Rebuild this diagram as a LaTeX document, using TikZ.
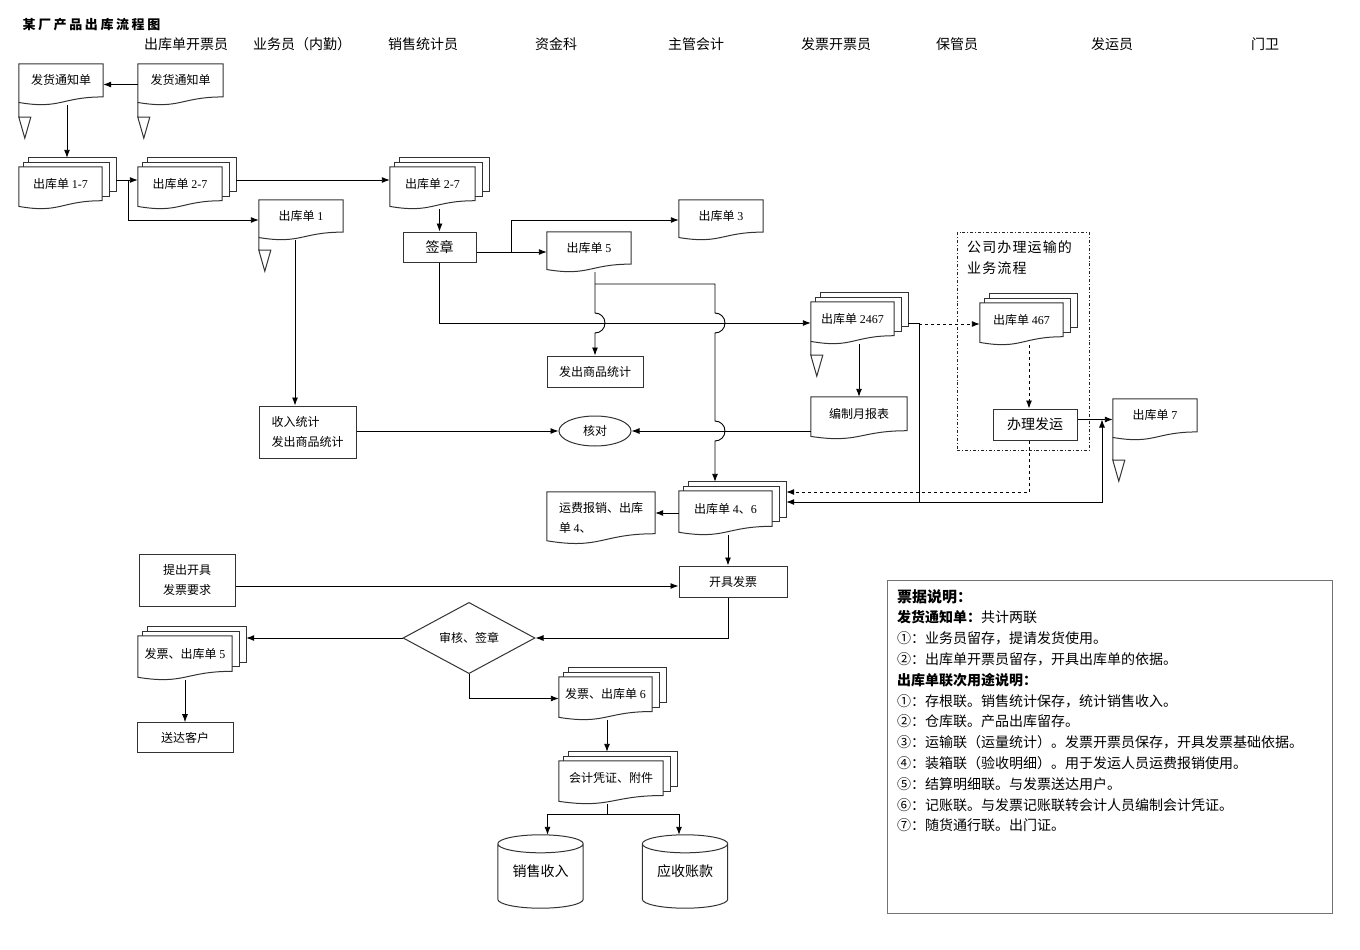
\documentclass[tikz,border=0pt]{standalone}
\usepackage{fontspec}
\setmainfont{Noto Sans CJK SC}
\newfontfamily\numfont{Liberation Serif}
\usetikzlibrary{shapes.geometric, arrows.meta, positioning, calc}
\tikzstyle{process} = [rectangle, draw=black!80, line width=1pt, inner sep=0pt, text centered]
\tikzstyle{decision} = [diamond, draw=black!80, line width=1pt, inner sep=0pt, minimum width=132pt, minimum height=62pt]
\tikzstyle{check} = [ellipse, draw=black!80, line width=1pt, inner sep=0pt, minimum width=72pt, minimum height=30pt]
\tikzstyle{flow} = [line width=0.9pt, ->, >={Latex[length=8pt,width=6pt]}]
\tikzstyle{lane} = [font=\fontsize{14pt}{16pt}\selectfont]
\tikzstyle{big} = [font=\fontsize{14pt}{16pt}\selectfont]
\tikzset{
  pageline/.style={draw=black!80, line width=1pt},
  % page with a wavy lower edge
  wavepage/.style 2 args={rectangle, minimum width=#1pt, minimum height=#2pt, inner sep=0pt,
    append after command={\pgfextra{\let\mainnode=\tikzlastnode
      \draw[pageline] let \p1=(\mainnode.north west), \p2=(\mainnode.south east) in
        (\p1) -- (\x2,\y1) -- ({\x2},{\y1-0.8*(\y1-\y2)})
        .. controls ({(\x1+\x2)/2},{\y1-0.8*(\y1-\y2)}) and ({(\x1+\x2)/2},{\y1-1.107*(\y1-\y2)})
        .. ({\x1},{\y1-0.934*(\y1-\y2)}) -- cycle;}}},
  docpage/.style 2 args={wavepage={#1}{#2}, text height=8pt, text depth=8pt},
  % two more pages behind the front one
  docstack/.style 2 args={docpage={#1}{#2},
    append after command={\pgfextra{\let\mainnode=\tikzlastnode
      \draw[pageline] let \p1=(\mainnode.north west), \p2=(\mainnode.south east) in
        ({\x1+5pt},{\y1}) -- ({\x1+5pt},{\y1+4.5pt}) -- ({\x2+7pt},{\y1+4.5pt})
          -- ({\x2+7pt},{\y1-0.8*(\y1-\y2)+4.5pt}) -- ({\x2},{\y1-0.8*(\y1-\y2)+4.5pt})
        ({\x1+10pt},{\y1+4.5pt}) -- ({\x1+10pt},{\y1+9pt}) -- ({\x2+14pt},{\y1+9pt})
          -- ({\x2+14pt},{\y1-0.8*(\y1-\y2)+9pt}) -- ({\x2+7pt},{\y1-0.8*(\y1-\y2)+9pt});}}},
  % file mark under the left edge
  filemark/.style={append after command={\pgfextra{\let\mainnode=\tikzlastnode
      \draw[pageline] let \p1=(\mainnode.north west), \p2=(\mainnode.south east) in
        ({\x1},{\y1-0.934*(\y1-\y2)}) -- ({\x1},{\y2-#1pt})
        ({\x1},{\y2-#1pt}) -- ({\x1+12pt},{\y2-#1pt})
          -- ({\x1+6pt},{\y2-#1pt-21pt}) -- cycle;}}},
  filemark/.default=11,
  drum/.style={minimum width=85pt, minimum height=73pt, inner sep=0pt,
    append after command={\pgfextra{\let\mainnode=\tikzlastnode
      \draw[pageline] let \p1=(\mainnode.north west), \p2=(\mainnode.south east) in
        ({(\x1+\x2)/2},{\y1-9pt}) ellipse [x radius={(\x2-\x1)/2}, y radius=9pt]
        ({\x1},{\y1-9pt}) -- ({\x1},{\y2+9pt})
          arc [start angle=180, end angle=360, x radius={(\x2-\x1)/2}, y radius=9pt]
          -- ({\x2},{\y1-9pt});}}}
}

\begin{document}
\begin{tikzpicture}[x=1pt, y=-1pt, font=\fontsize{12pt}{20pt}\selectfont]
  \path[use as bounding box, fill=white] (0,0) rectangle (1360,950);
  \node (title) [anchor=west, font=\fontsize{13pt}{14pt}\selectfont\bfseries\addfontfeature{LetterSpace=20}] at (19,25) {某厂产品出库流程图};
  % lanes
  \node (lane1) [lane] at (186,44) {出库单开票员};
  \node (lane2) [lane] at (302,44) {业务员（内勤）};
  \node (lane3) [lane] at (423,44) {销售统计员};
  \node (lane4) [lane] at (556,44) {资金科};
  \node (lane5) [lane] at (696,44) {主管会计};
  \node (lane6) [lane] at (836,44) {发票开票员};
  \node (lane7) [lane] at (957,44) {保管员};
  \node (lane8) [lane] at (1112,44) {发运员};
  \node (lane9) [lane] at (1265,44) {门卫};
  % documents
  \node (fhA) [docpage={84}{41}, filemark=12] at (61,84.5) {发货通知单};
  \node (fhB) [docpage={85}{41}, filemark=12] at (180.5,84.5) {发货通知单};
  \node (ck17) [docstack={83}{42}] at (60.5,188) {出库单 {\numfont 1-7}};
  \node (ck27a) [docstack={84}{42}] at (180,188) {出库单 {\numfont 2-7}};
  \node (ck1) [docpage={84}{40}, filemark=10] at (301,220) {出库单 {\numfont 1}};
  \node (ck27b) [docstack={85}{42}] at (432.5,188) {出库单 {\numfont 2-7}};
  \node (qz) [process, big, minimum width=73pt, minimum height=30pt] at (439.5,247) {签章};
  \node (ck3) [docpage={84}{40}] at (721,220) {出库单 {\numfont 3}};
  \node (ck5) [docpage={84}{40}] at (589,252) {出库单 {\numfont 5}};
  \node (fcsp) [process, minimum width=96pt, minimum height=31pt] at (595,371.5) {发出商品统计};
  \node (ck2467) [docstack={83}{42}, filemark] at (852.5,323) {出库单 {\numfont 2467}};
  \node (bzyb) [docpage={96}{42}] at (859,418) {编制月报表};
  \node (hd) [check] at (595,431) {核对};
  \node (srtj) [process, align=left, minimum width=97pt, minimum height=52pt] at (307.5,432) {收入统计\\发出商品统计};
  \node (ysbox) [draw=black!85, line width=0.9pt, dash dot, minimum width=132pt, minimum height=218pt, anchor=north west] at (957,232) {};
  \node (ystext) [anchor=north west, align=left, inner sep=0pt, font=\fontsize{14pt}{21pt}\selectfont\addfontfeature{LetterSpace=8}] at ([xshift=10pt,yshift=-8pt]ysbox.north west) {公司办理运输的\\业务流程};
  \node (ck467) [docstack={83}{42}] at (1021.5,324) {出库单 {\numfont 467}};
  \node (blfy) [process, big, minimum width=84pt, minimum height=31pt] at (1035,424.5) {办理发运};
  \node (ck7) [docpage={84}{41}, filemark=20] at (1155,419.5) {出库单 {\numfont 7}};
  \node (ck46) [docstack={93}{44}] at (725.5,513) {出库单 {\numfont 4}、{\numfont 6}};
  \node (yfbx) [wavepage={108}{52}, align=left] at (601,518) {运费报销、出库\\单 {\numfont 4}、};
  \node (kjfp) [process, minimum width=108pt, minimum height=31pt] at (733,581.5) {开具发票};
  \node (tckj) [process, align=center, minimum width=96pt, minimum height=52pt] at (187,580) {提出开具\\发票要求};
  \node (shqz) [decision] at (469,638) {审核、签章};
  \node (fp5) [docstack={94}{44}] at (185,658) {发票、出库单 {\numfont 5}};
  \node (sdkh) [process, minimum width=96pt, minimum height=30pt, below=42pt of fp5] {送达客户};
  \node (fp6) [docstack={93}{43}] at (605.5,698.5) {发票、出库单 {\numfont 6}};
  \node (kjpz) [docstack={104}{43}] at (611,782.5) {会计凭证、附件};
  \node (xssr) [drum, big] at (540.5,871.5) {销售收入};
  \node (yszk) [drum, big] at (685,871.5) {应收账款};
  % notes
  \node (note) [draw=black!55, line width=0.9pt, minimum width=445pt, minimum height=333pt, anchor=north west] at (887,580) {};
  \node (notetext) [anchor=north west, align=left, inner sep=0pt, font=\fontsize{14pt}{20.8pt}\selectfont] at ([xshift=10pt,yshift=-9pt]note.north west) {{\fontsize{15pt}{20.8pt}\selectfont\bfseries 票据说明：}\\
    \textbf{发货通知单：}共计两联\\
    ①：业务员留存，提请发货使用。\\
    ②：出库单开票员留存，开具出库单的依据。\\
    \textbf{出库单联次用途说明：}\\
    ①：存根联。销售统计保存，统计销售收入。\\
    ②：仓库联。产品出库留存。\\
    ③：运输联（运量统计）。发票开票员保存，开具发票基础依据。\\
    ④：装箱联（验收明细）。用于发运人员运费报销使用。\\
    ⑤：结算明细联。与发票送达用户。\\
    ⑥：记账联。与发票记账联转会计人员编制会计凭证。\\
    ⑦：随货通行联。出门证。};
  % helper points
  \coordinate (ck17r) at ([xshift=14pt,yshift=8pt]ck17.east);
  \coordinate (ck17t) at ([xshift=6.5pt,yshift=9pt]ck17.north);
  \coordinate (ck27ar) at ([xshift=14pt,yshift=8pt]ck27a.east);
  \coordinate (ck2467r) at ([xshift=14pt]ck2467.east);
  \coordinate (ck46t) at ([yshift=9pt]ck46.north);
  \coordinate (ck46r) at ([xshift=14pt]ck46.east);
  \coordinate (fp5r) at ([xshift=14pt]fp5.east);
  \coordinate (kjpzt) at ([yshift=9pt]kjpz.north);
  \coordinate (b5) at (595,284);
  \coordinate (b5r) at (715,284);
  \coordinate (h1) at (fcsp.north |- ck2467.west);
  \coordinate (h2) at (b5r |- ck2467.west);
  \coordinate (h3) at (b5r |- hd.east);
  \coordinate (t1) at (919,502);
  \coordinate (t2) at (1102,419.5);
  \coordinate (c1) at ([xshift=-6pt]ck1.south);
  \coordinate (c467) at ([xshift=7.5pt]ck467.south);
  \coordinate (cfy) at ([xshift=-6pt]blfy.south);
  \coordinate (c46) at ([xshift=2.5pt]ck46.south);
  \coordinate (ctk) at ([yshift=-6pt]tckj.east);
  \coordinate (c6) at ([xshift=1.5pt]fp6.south);
  \coordinate (sp) at ([xshift=-4pt,yshift=-10pt]kjpz.south);
  % connectors
  \draw [flow] (fhB.west) -- (fhA.east);
  \draw [flow] ([xshift=6pt]fhA.south) -- (ck17t);
  \draw [flow] (ck17r) -- (ck17r -| ck27a.west);
  \draw [flow] ([xshift=12pt]ck17r) |- (ck1.west);
  \draw [flow] (ck27ar) -- (ck27ar -| ck27b.west);
  \draw [flow] (qz.north |- ck27b.south) -- (qz.north);
  \draw [flow] (qz.east |- ck5.west) -- (ck5.west);
  \draw [flow] ($(qz.east |- ck5.west)!0.5!(ck5.west)$) |- (ck3.west);
  \draw [flow] (qz.south) |- (ck2467.west);
  \draw [flow] (fcsp.north |- ck5.south) -- ([yshift=10pt]h1) arc [start angle=90, end angle=-90, radius=10pt] -- (fcsp.north);
  \draw [flow] (b5) -- (b5r) -- ([yshift=10pt]h2) arc [start angle=90, end angle=-90, radius=10pt]
    -- ([yshift=10pt]h3) arc [start angle=90, end angle=-90, radius=10pt] -- (b5r |- ck46t);
  \draw [flow] (bzyb.north |- ck2467.south) -- (bzyb.north);
  \draw [flow] (bzyb.west |- hd.east) -- (hd.east);
  \draw [flow] (srtj.east |- hd.west) -- (hd.west);
  \draw [flow] (c1) -- (c1 |- srtj.north);
  \draw [flow, dashed] (t1 |- ck467.west) -- (ck467.west);
  \draw [flow, dashed] (c467) -- (c467 |- blfy.north);
  \draw [flow] (blfy.east |- ck7.west) -- (ck7.west);
  \draw [flow, dashed] (cfy) |- ([yshift=21pt]ck46r);
  \draw [flow] (ck2467r) -| (t1) -- (t1 -| ck46r);
  \draw [flow] (t1) -| (t2);
  \draw [flow] (ck46.west) -- (ck46.west -| yfbx.east);
  \draw [flow] (c46) -- (c46 |- kjfp.north);
  \draw [flow] (ctk) -- (ctk -| kjfp.west);
  \draw [flow] ([xshift=-5pt]kjfp.south) |- (shqz.east);
  \draw [flow] (shqz.west) -- (shqz.west -| fp5r);
  \draw [flow] (shqz.south) |- (fp6.west);
  \draw [flow] (sdkh.north |- fp5.south) -- (sdkh.north);
  \draw [flow] (c6) -- (c6 |- kjpzt);
  \draw [line width=0.9pt] (sp |- kjpz.south) -- (sp);
  \draw [flow] (sp) -| ([xshift=7pt]xssr.north);
  \draw [flow] (sp) -| ([xshift=-6pt]yszk.north);
\end{tikzpicture}
\end{document}
